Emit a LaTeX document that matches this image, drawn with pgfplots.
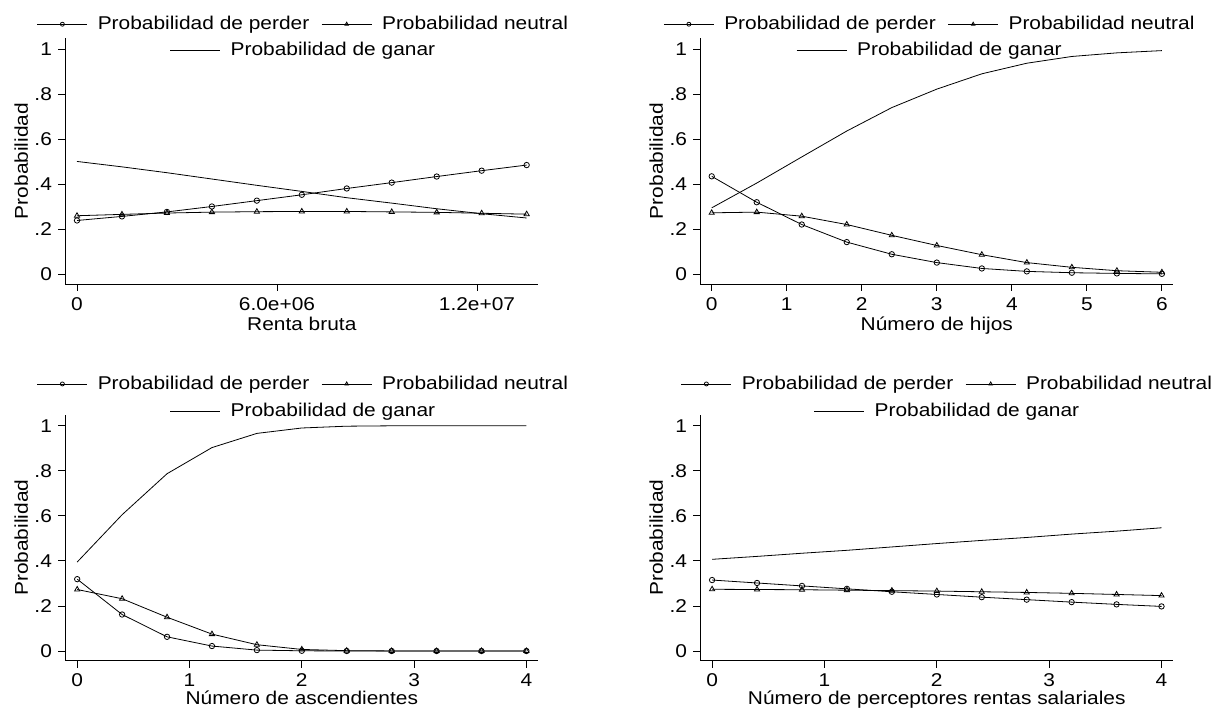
\documentclass[border=0pt]{standalone}
\usepackage{fontspec}
\setmainfont{Liberation Sans}[FakeStretch=1.13]
\usepackage{pgfplots}
\usepackage{pgfplotstable}
\pgfplotsset{compat=1.18}

\pgfplotstableread{
x p n g
0        0.239 0.260 0.501
1349000  0.257 0.266 0.477
2698000  0.277 0.272 0.451
4047000  0.301 0.276 0.423
5396000  0.327 0.278 0.395
6745000  0.353 0.279 0.368
8094000  0.381 0.279 0.340
9443000  0.407 0.277 0.316
10792000 0.434 0.275 0.291
12141000 0.460 0.271 0.269
13490000 0.485 0.267 0.250
}\tabA
\pgfplotstableread{
x p n g
0   0.435 0.273 0.295
0.6 0.320 0.276 0.405
1.2 0.221 0.258 0.521
1.8 0.143 0.221 0.636
2.4 0.089 0.173 0.740
3.0 0.052 0.128 0.822
3.6 0.026 0.087 0.890
4.2 0.013 0.052 0.937
4.8 0.007 0.031 0.967
5.4 0.004 0.016 0.983
6.0 0.002 0.009 0.993
}\tabB
\pgfplotstableread{
x p n g
0   0.319 0.273 0.395
0.4 0.162 0.232 0.605
0.8 0.063 0.150 0.787
1.2 0.022 0.075 0.903
1.6 0.004 0.028 0.966
2.0 0.001 0.007 0.990
2.4 0.000 0.0015 0.998
2.8 0.000 0.0003 0.9997
3.2 0.000 0.000 1.000
3.6 0.000 0.000 1.000
4.0 0.000 0.000 1.000
}\tabC
\pgfplotstableread{
x p n g
0   0.315 0.274 0.407
0.4 0.302 0.273 0.420
0.8 0.289 0.272 0.434
1.2 0.276 0.270 0.447
1.6 0.263 0.268 0.462
2.0 0.251 0.266 0.477
2.4 0.239 0.263 0.491
2.8 0.228 0.260 0.504
3.2 0.217 0.256 0.519
3.6 0.207 0.251 0.532
4.0 0.198 0.246 0.547
}\tabD

\pgfplotsset{
  stata/.style={
    scale only axis, width=473bp, height=246bp,
    anchor=south west,
    axis lines=left, axis line style={-, line width=0.9bp, black},
    tick align=outside, major tick length=7bp,
    tick style={line width=0.9bp, black},
    scaled x ticks=false, scaled y ticks=false,
    ymin=-0.043, ymax=1.049,
    ytick={0,0.2,0.4,0.6,0.8,1}, yticklabels={0,.2,.4,.6,.8,1},
    ylabel={Probabilidad},
    ylabel style={at={(axis description cs:-0.079,0.5)}, anchor=base},
    legend columns=2,
    legend style={draw=none, fill=none, anchor=center,
      /tikz/every odd column/.append style={column sep=8bp},
      /tikz/every even column/.append style={column sep=10bp}},
    legend cell align=left,
    legend image code/.code={\draw[mark repeat=2,mark phase=2,##1,mark size=2bp]
      plot coordinates {(0bp,0bp) (25bp,0bp) (50bp,0bp)};},
    clip=false,
  },
  ganarleg/.style={
    scale only axis, width=473bp, height=246bp,
    anchor=south west, hide axis,
    xmin=0, xmax=1, ymin=0, ymax=1,
    legend style={draw=none, fill=none, anchor=center,
      /tikz/every odd column/.append style={column sep=8bp}},
    legend image code/.code={\draw[##1] (0bp,0bp) -- (50bp,0bp);},
  },
  pp/.style={black, line width=0.8bp, mark=o, mark size=2.7bp, mark options={solid}},
  pn/.style={black, line width=0.8bp, mark=triangle, mark size=3bp, mark options={solid}},
  pg/.style={black, line width=0.8bp, no marks},
}

\begin{document}
\fontsize{18.5bp}{22bp}\selectfont
\begin{tikzpicture}
\path[use as bounding box] (0,0) rectangle (1220bp,711bp);

% Panel 1
\begin{axis}[stata, at={(65.3bp,427bp)},
  xmin=-351000, xmax=13840000,
  xtick={0,6000000,12000000}, xticklabels={0,6.0e+06,1.2e+07},
  xlabel={Renta bruta},
  xlabel style={at={(axis description cs:0.5,-0.191)}, anchor=base},
  legend style={at={(0.5036,1.056)}}]
\addplot[pp] table[x=x,y=p] {\tabA};
\addplot[pn] table[x=x,y=n] {\tabA};
\addplot[pg] table[x=x,y=g] {\tabA};
\legend{Probabilidad de perder, Probabilidad neutral}
\end{axis}
\begin{axis}[ganarleg, at={(65.3bp,427bp)}, legend style={at={(0.5036,0.9496)}}]
\addlegendimage{pg}
\addlegendentry{Probabilidad de ganar}
\end{axis}

% Panel 2
\begin{axis}[stata, at={(700.3bp,427bp)},
  xmin=-0.152, xmax=6.152,
  xtick={0,1,2,3,4,5,6}, xticklabels={0,1,2,3,4,5,6},
  xlabel={Número de hijos},
  xlabel style={at={(axis description cs:0.5,-0.191)}, anchor=base},
  legend style={at={(0.4856,1.056)}}]
\addplot[pp] table[x=x,y=p] {\tabB};
\addplot[pn] table[x=x,y=n] {\tabB};
\addplot[pg] table[x=x,y=g] {\tabB};
\legend{Probabilidad de perder, Probabilidad neutral}
\end{axis}
\begin{axis}[ganarleg, at={(700.3bp,427bp)}, legend style={at={(0.4856,0.9496)}}]
\addlegendimage{pg}
\addlegendentry{Probabilidad de ganar}
\end{axis}

% Panel 3
\begin{axis}[stata, at={(65.3bp,50.3bp)},
  xmin=-0.106, xmax=4.106,
  xtick={0,1,2,3,4}, xticklabels={0,1,2,3,4},
  xlabel={Número de ascendientes},
  xlabel style={at={(axis description cs:0.5,-0.177)}, anchor=base},
  legend style={at={(0.5036,1.125)}}]
\addplot[pp] table[x=x,y=p] {\tabC};
\addplot[pn] table[x=x,y=n] {\tabC};
\addplot[pg] table[x=x,y=g] {\tabC};
\legend{Probabilidad de perder, Probabilidad neutral}
\end{axis}
\begin{axis}[ganarleg, at={(65.3bp,50.3bp)}, legend style={at={(0.5036,1.015)}}]
\addlegendimage{pg}
\addlegendentry{Probabilidad de ganar}
\end{axis}

% Panel 4
\begin{axis}[stata, at={(700.3bp,50.3bp)},
  xmin=-0.105, xmax=4.105,
  xtick={0,1,2,3,4}, xticklabels={0,1,2,3,4},
  xlabel={Número de perceptores rentas salariales},
  xlabel style={at={(axis description cs:0.5,-0.177)}, anchor=base},
  legend style={at={(0.5226,1.125)}}]
\addplot[pp] table[x=x,y=p] {\tabD};
\addplot[pn] table[x=x,y=n] {\tabD};
\addplot[pg] table[x=x,y=g] {\tabD};
\legend{Probabilidad de perder, Probabilidad neutral}
\end{axis}
\begin{axis}[ganarleg, at={(700.3bp,50.3bp)}, legend style={at={(0.5226,1.015)}}]
\addlegendimage{pg}
\addlegendentry{Probabilidad de ganar}
\end{axis}
\end{tikzpicture}
\end{document}
